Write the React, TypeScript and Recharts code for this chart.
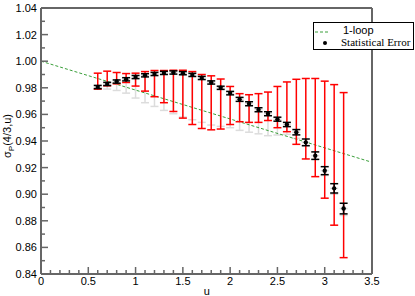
import React from 'react';
import { ComposedChart, Scatter, Line, XAxis, YAxis, ErrorBar, Legend } from 'recharts';

// data
const uValues = [0.6, 0.7, 0.8, 0.9, 1.0, 1.1, 1.2, 1.3, 1.4, 1.5, 1.6, 1.7, 1.8, 1.9, 2.0, 2.1, 2.2, 2.3, 2.4, 2.5, 2.6, 2.7, 2.8, 2.9, 3.0, 3.1, 3.2];
const sigmaValues = [0.9806, 0.9829, 0.9847, 0.9864, 0.9881, 0.9894, 0.9904, 0.9912, 0.9915, 0.991, 0.9897, 0.9874, 0.984, 0.98, 0.976, 0.9713, 0.968, 0.9635, 0.9605, 0.9564, 0.9524, 0.9466, 0.939, 0.929, 0.9177, 0.9044, 0.8892];
const statErrors = [0.0012, 0.0012, 0.0012, 0.0012, 0.0012, 0.0012, 0.0012, 0.0012, 0.0012, 0.0012, 0.0012, 0.0012, 0.0012, 0.0012, 0.0013, 0.0015, 0.0015, 0.0015, 0.0015, 0.0015, 0.0016, 0.002, 0.0025, 0.0028, 0.003, 0.0035, 0.004];
const sysHigh = [0.991, 0.9925, 0.9915, 0.9907, 0.991, 0.9922, 0.993, 0.993, 0.9932, 0.9932, 0.9922, 0.99, 0.989, 0.9866, 0.981, 0.9756, 0.9748, 0.9756, 0.9768, 0.981, 0.9844, 0.9864, 0.987, 0.987, 0.985, 0.9824, 0.9764];
const sysLow = [0.979, 0.9815, 0.983, 0.984, 0.9813, 0.9775, 0.9733, 0.9688, 0.9622, 0.9572, 0.9524, 0.9494, 0.9484, 0.949, 0.9524, 0.9545, 0.954, 0.954, 0.9554, 0.95, 0.947, 0.9375, 0.9265, 0.9132, 0.897, 0.8767, 0.8523];
const altLow = [0.979, 0.979, 0.978, 0.976, 0.9723, 0.9688, 0.966, 0.963, 0.9605, 0.958, 0.956, 0.954, 0.952, 0.951, 0.95, 0.948, 0.9466, 0.9454, 0.944, 0.9445, 0.945, 0.942, 0.936, 0.926, 0.914, 0.9, 0.884];

const oneLoopU = [0, 3.5];
const oneLoopSigma = [1.0, 0.924];

const xTicks = Array.from({ length: 36 }, (_, i) => +(i * 0.1).toFixed(1));
const yTicks = Array.from({ length: 21 }, (_, i) => +(0.84 + i * 0.01).toFixed(2));

const points = uValues.map((u, i) => ({
  u,
  sigma: sigmaValues[i],
  stat: statErrors[i],
  sys: [sigmaValues[i] - sysLow[i], sysHigh[i] - sigmaValues[i]],
  alt: [sigmaValues[i] - altLow[i], 0],
}));
const oneLoop = oneLoopU.map((u, i) => ({ u, v: oneLoopSigma[i] }));

const axisColor = '#666';
const sans = '"Liberation Sans", Arial, sans-serif';
const serif = '"Liberation Serif", "Times New Roman", serif';
const green = '#3a9f3a';

const isMajorX = (v: number) => Math.abs(v * 2 - Math.round(v * 2)) < 1e-6;
const isMajorY = (v: number) => Math.abs(v * 50 - Math.round(v * 50)) < 1e-6;

const BottomTick = ({ x, y, payload }: any) => {
  const major = isMajorX(payload.value);
  return (
    <g>
      <line x1={x} y1={y} x2={x} y2={y - (major ? 7 : 4)} stroke={axisColor} strokeWidth={1.5} />
      {major && (
        <text x={x} y={y + 11} textAnchor="middle" fontSize={11} fontFamily={sans} fill="#000">
          {String(payload.value)}
        </text>
      )}
    </g>
  );
};

const TopTick = ({ x, y, payload }: any) => {
  const major = isMajorX(payload.value);
  return <line x1={x} y1={y} x2={x} y2={y + (major ? 7 : 4)} stroke={axisColor} strokeWidth={1.5} />;
};

const LeftTick = ({ x, y, payload }: any) => {
  const major = isMajorY(payload.value);
  return (
    <g>
      <line x1={x} y1={y} x2={x + (major ? 7 : 4)} y2={y} stroke={axisColor} strokeWidth={1.5} />
      {major && (
        <text x={x - 4} y={y + 4} textAnchor="end" fontSize={11} fontFamily={sans} fill="#000">
          {payload.value.toFixed(2)}
        </text>
      )}
    </g>
  );
};

const RightTick = ({ x, y, payload }: any) => {
  const major = isMajorY(payload.value);
  return <line x1={x} y1={y} x2={x - (major ? 7 : 4)} y2={y} stroke={axisColor} strokeWidth={1.5} />;
};

const LegendBox = () => (
  <svg width={101} height={28} style={{ display: 'block' }}>
    <rect x={0.5} y={0.5} width={100} height={27} fill="#fff" stroke="#000" />
    <line x1={2} y1={10} x2={17} y2={10} stroke={green} strokeDasharray="3 2" />
    <text x={30} y={11.5} fontSize={11} fontFamily={sans} fill="#000">1-loop</text>
    <circle cx={12} cy={21} r={2} fill="#000" />
    <text x={28} y={24} fontSize={11} fontFamily={serif} fill="#000">Statistical Error</text>
  </svg>
);

const Dot = ({ cx, cy }: any) => <circle cx={cx} cy={cy} r={2.2} fill="#000" />;
const NoDot = () => <g />;

export default function App() {
  return (
    <div style={{ position: 'absolute', left: 0, top: 0, width: 415, height: 296, background: '#fff' }}>
      <ComposedChart width={415} height={296} margin={{ top: 7, right: 42, bottom: 21, left: 40 }}>
        <XAxis
          dataKey="u"
          type="number"
          domain={[0, 3.5]}
          ticks={xTicks}
          interval={0}
          height={1}
          tickSize={0}
          tickMargin={0}
          tickLine={false}
          tick={<BottomTick />}
          axisLine={{ stroke: axisColor, strokeWidth: 2 }}
          label={() => (
            <text x={206.7} y={295} textAnchor="middle" fontSize={11} fontFamily={sans} fill="#000">u</text>
          )}
        />
        <XAxis
          xAxisId="top"
          orientation="top"
          type="number"
          domain={[0, 3.5]}
          ticks={xTicks}
          interval={0}
          height={1}
          tickSize={0}
          tickMargin={0}
          tickLine={false}
          tick={<TopTick />}
          axisLine={{ stroke: axisColor, strokeWidth: 2 }}
        />
        <YAxis
          type="number"
          domain={[0.84, 1.04]}
          ticks={yTicks}
          interval={0}
          width={1}
          tickSize={0}
          tickMargin={0}
          tickLine={false}
          tick={<LeftTick />}
          axisLine={{ stroke: axisColor, strokeWidth: 2 }}
          label={() => (
            <text x={11} y={136} transform="rotate(-90 11 136)" textAnchor="middle" fontSize={11} fontFamily={sans} fill="#000">
              σ<tspan fontSize={8} dy={2.5}>P</tspan><tspan dy={-2.5}>(4/3,u)</tspan>
            </text>
          )}
        />
        <YAxis
          yAxisId="right"
          orientation="right"
          type="number"
          domain={[0.84, 1.04]}
          ticks={yTicks}
          interval={0}
          width={1}
          tickSize={0}
          tickMargin={0}
          tickLine={false}
          tick={<RightTick />}
          axisLine={{ stroke: axisColor, strokeWidth: 2 }}
        />
        <Scatter data={points} dataKey="sigma" shape={NoDot} isAnimationActive={false} legendType="none">
          <ErrorBar dataKey="alt" direction="y" width={4} stroke="#dcdcdc" strokeWidth={1.5} />
        </Scatter>
        <Line
          data={oneLoop}
          dataKey="v"
          stroke={green}
          strokeWidth={1}
          strokeDasharray="3 2"
          dot={false}
          activeDot={false}
          isAnimationActive={false}
        />
        <Scatter data={points} dataKey="sigma" shape={NoDot} isAnimationActive={false} legendType="none">
          <ErrorBar dataKey="sys" direction="y" width={4} stroke="#ff0000" strokeWidth={1.5} />
        </Scatter>
        <Scatter data={points} dataKey="sigma" shape={Dot} isAnimationActive={false}>
          <ErrorBar dataKey="stat" direction="y" width={4} stroke="#000" strokeWidth={1.5} />
        </Scatter>
        <Legend
          layout="horizontal"
          verticalAlign="middle"
          align="center"
          content={LegendBox}
          wrapperStyle={{ position: 'absolute', left: 313, top: 22, width: 101, height: 28 }}
        />
      </ComposedChart>
    </div>
  );
}
